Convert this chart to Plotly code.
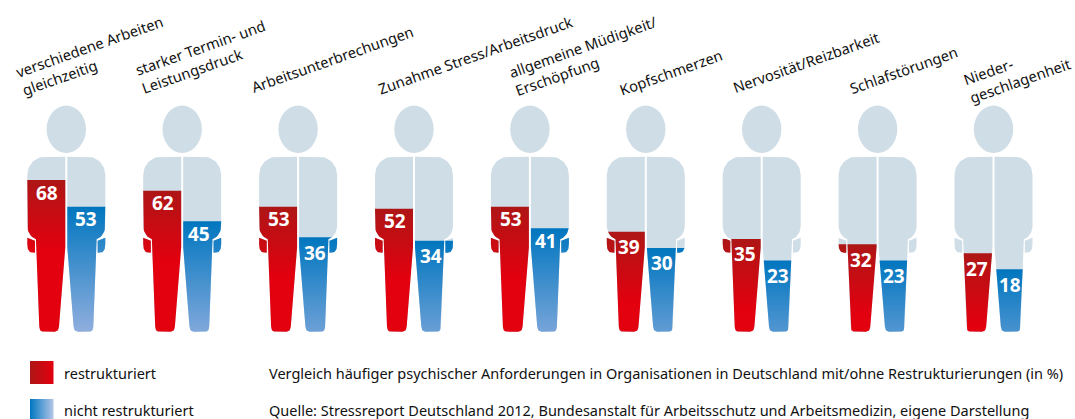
import plotly.graph_objects as go

# ---------- data ----------
categories = [
    "verschiedene Arbeiten<br>gleichzeitig", "starker Termin- und<br>Leistungsdruck",
    "Arbeitsunterbrechungen", "Zunahme Stress/Arbeitsdruck",
    "allgemeine Müdigkeit/<br>Erschöpfung", "Kopfschmerzen",
    "Nervosität/Reizbarkeit", "Schlafstörungen", "Nieder-<br>geschlagenheit",
]
restrukturiert = [68, 62, 53, 52, 53, 39, 35, 32, 27]
nicht_restrukturiert = [53, 45, 36, 34, 41, 30, 23, 23, 18]
series_names = ["restrukturiert", "nicht restrukturiert"]
subtitle = "Vergleich häufiger psychischer Anforderungen in Organisationen in Deutschland mit/ohne Restrukturierungen (in %)"
source = "Quelle: Stressreport Deutschland 2012, Bundesanstalt für Arbeitsschutz und Arbeitsmedizin, eigene Darstellung"

# ---------- scales (pixel <-> axis) ----------
W, H = 1075, 419
PX_PER_PERSON, X0_PX = 115.9, 66.3
PX_PER_PCT, Y0_PX = 1.786, 301.5
FONT = "Noto Sans"
TEXT = "#111111"
GREY = "#cfdde7"


def xv(px):
    return (px - X0_PX) / PX_PER_PERSON


def yv(py):
    return (Y0_PX - py) / PX_PER_PCT


# ---------- silhouette template: (dx from centre px, y px) ----------
def quad(p0, c, p1, n=10):
    return [((1 - t) ** 2 * p0[0] + 2 * t * (1 - t) * c[0] + t * t * p1[0],
             (1 - t) ** 2 * p0[1] + 2 * t * (1 - t) * c[1] + t * t * p1[1])
            for t in (i / n for i in range(n + 1))]


def cubic(p0, c0, c1, p1, n=14):
    pts = []
    for i in range(n + 1):
        t = i / n
        a, b, c, d = (1 - t) ** 3, 3 * t * (1 - t) ** 2, 3 * t * t * (1 - t), t ** 3
        pts.append((a * p0[0] + b * c0[0] + c * c1[0] + d * p1[0],
                    a * p0[1] + b * c0[1] + c * c1[1] + d * p1[1]))
    return pts


def z(zx, zy):
    return ((zx - 199) / 3, 90 + zy / 3)


TORSO = ([z(196, 200)] + cubic(z(135, 200), z(106, 200), z(82, 224), z(82, 256))
         + quad(z(82, 410), z(84, 437), z(108, 448))
         + quad(z(118, 710), z(118, 725), z(131, 725))
         + quad(z(164, 725), z(176, 725), z(177, 710))
         + [z(196, 472)])
HAND = ([z(82, 443), z(105, 452), z(105, 488), z(98, 488)]
        + quad(z(98, 488), z(82, 488), z(82, 462)))


def clip_below(poly, limit_py):
    """Keep the part of a polygon below a horizontal pixel line."""
    out = []
    for i, a in enumerate(poly):
        b = poly[(i + 1) % len(poly)]
        ina, inb = a[1] >= limit_py, b[1] >= limit_py
        if ina:
            out.append(a)
        if ina != inb:
            t = (limit_py - a[1]) / (b[1] - a[1])
            out.append((a[0] + t * (b[0] - a[0]), limit_py))
    return out


def outline(idx, side, value=None):
    """side=+1 is the figure's left half, side=-1 its mirrored right half."""
    xs, ys = [], []
    for part in (TORSO, HAND):
        poly = part if value is None else clip_below(part, Y0_PX - value * PX_PER_PCT)
        if not poly:
            continue
        closed = poly + [poly[0]]
        xs += [idx + side * p[0] / PX_PER_PERSON for p in closed] + [None]
        ys += [yv(p[1]) for p in closed] + [None]
    return xs, ys


fig = go.Figure()

# grey bodies and heads
for i in range(len(categories)):
    for side in (1, -1):
        sx, sy = outline(i, side)
        fig.add_trace(go.Scatter(x=sx, y=sy, mode="lines", fill="toself",
                                 fillcolor=GREY, line=dict(width=0),
                                 hoverinfo="skip", showlegend=False))
    fig.add_shape(type="circle", xref="x", yref="y",
                  x0=i - 19.7 / PX_PER_PERSON, x1=i + 19.7 / PX_PER_PERSON,
                  y0=yv(129.3 + 23.7), y1=yv(129.3 - 23.7),
                  fillcolor=GREY, line=dict(width=0), layer="below")

# coloured fills, clipped to the value
for i, (r, n) in enumerate(zip(restrukturiert, nicht_restrukturiert)):
    sx, sy = outline(i, 1, r)
    fig.add_trace(go.Scatter(
        x=sx, y=sy, mode="lines", line=dict(width=0), fill="toself", name=series_names[0],
        fillgradient=dict(type="vertical", colorscale=[[0, "#e3000f"], [1, "#ae1616"]],
                          start=r - 40, stop=r),
        hoverinfo="skip", showlegend=False))
    sx, sy = outline(i, -1, n)
    fig.add_trace(go.Scatter(
        x=sx, y=sy, mode="lines", line=dict(width=0), fill="toself", name=series_names[1],
        fillgradient=dict(type="vertical", colorscale=[[0, "#90aede"], [1, "#0076bf"]],
                          start=n - 70, stop=n),
        hoverinfo="skip", showlegend=False))

# value labels
for i, (r, n) in enumerate(zip(restrukturiert, nicht_restrukturiert)):
    for v, sign in ((r, -1), (n, 1)):
        off = 19.3 if v >= 50 else 16.5
        down = 12.5 if v >= 40 else 15.5
        fig.add_annotation(x=i + sign * off / PX_PER_PERSON, y=v - down / PX_PER_PCT,
                           text=f"<b>{v}</b>", showarrow=False, xref="x", yref="y",
                           font=dict(family=FONT, size=19, color="white"))

# rotated category labels
label_centres = [(92, 55), (203, 56), (332, 59), (475, 55), (586, 55),
                 (671, 72), (806, 62), (903, 70), (1016, 71)]
for text, (cx, cy) in zip(categories, label_centres):
    fig.add_annotation(x=xv(cx), y=yv(cy), text=text, showarrow=False, textangle=-19.5,
                       align="left", xref="x", yref="y",
                       font=dict(family=FONT, size=14.7, color=TEXT))

# legend swatches + notes
sw = [((30, 53.5, 361, 384), ["#ae1616", "#e3000f"], 30, 53.5),
      ((30, 53.5, 399, 420), ["#0076bf", "#b4c6e8"], 30, 53.5)]
for (x0, x1, y0, y1), cols, a, b in sw:
    fig.add_trace(go.Scatter(
        x=[xv(x0), xv(x1), xv(x1), xv(x0), xv(x0)],
        y=[yv(y0), yv(y0), yv(y1), yv(y1), yv(y0)],
        mode="lines", line=dict(width=0), fill="toself",
        fillgradient=dict(type="horizontal", colorscale=[[0, cols[0]], [1, cols[1]]],
                          start=xv(a), stop=xv(b)),
        hoverinfo="skip", showlegend=False))

for txt, px, py in [(series_names[0], 62, 373), (series_names[1], 62, 410),
                    (subtitle, 267, 373), (source, 267, 410)]:
    fig.add_annotation(x=xv(px), y=yv(py), text=txt, showarrow=False, xref="x", yref="y",
                       xanchor="left", yanchor="middle",
                       font=dict(family=FONT, size=14.5, color=TEXT))

fig.update_layout(
    width=W, height=H, margin=dict(l=0, r=0, t=0, b=0),
    paper_bgcolor="white", plot_bgcolor="white", showlegend=False,
    xaxis=dict(visible=False, range=[xv(0), xv(W)], fixedrange=True),
    yaxis=dict(visible=False, range=[yv(H), yv(0)], fixedrange=True),
)
fig.write_html("out.html", config={"displayModeBar": False},
               post_script="document.body.style.margin='0';document.body.style.overflow='hidden';")
